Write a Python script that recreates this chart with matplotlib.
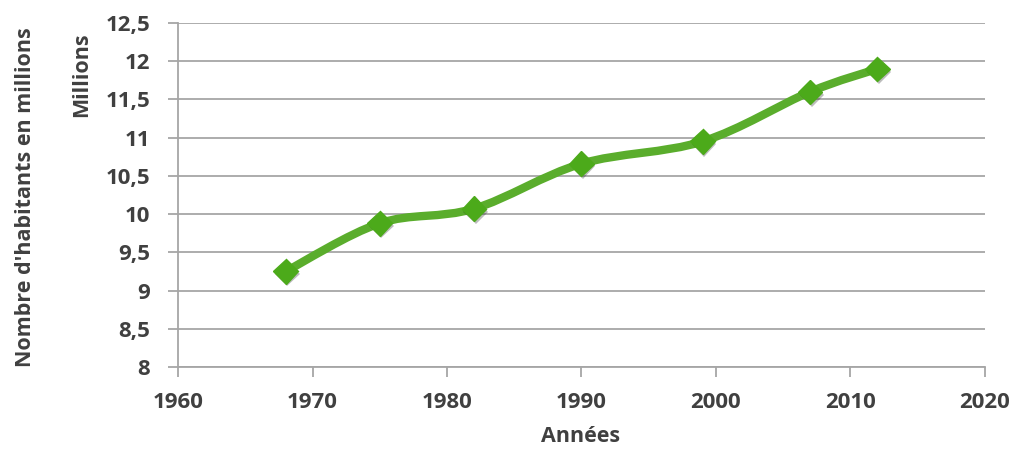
import numpy as np
import matplotlib
matplotlib.use('Agg')
import matplotlib.pyplot as plt
from matplotlib.path import Path
from matplotlib.patches import PathPatch
import matplotlib.patheffects as pe
from matplotlib.ticker import FuncFormatter

years = [1968, 1975, 1982, 1990, 1999, 2007, 2012]
population = [9.25, 9.88, 10.07, 10.66, 10.95, 11.60, 11.90]

x_ticks = [1960, 1970, 1980, 1990, 2000, 2010, 2020]
y_ticks = [8, 8.5, 9, 9.5, 10, 10.5, 11, 11.5, 12, 12.5]

TEXT = '#404040'
GRID = '#a6a6a6'
LINE = '#5aad2c'
MARK = '#4caa1a'

plt.rcParams['font.family'] = ['Open Sans', 'DejaVu Sans']
plt.rcParams['font.weight'] = 'bold'


def smooth_path(xs, ys):
    # excel-like smoothed line: bezier segments with catmull-rom control points
    pts = np.column_stack([xs, ys]).astype(float)
    n = len(pts)
    verts = [pts[0]]
    codes = [Path.MOVETO]
    for i in range(n - 1):
        p0 = pts[i - 1] if i > 0 else pts[i]
        p1 = pts[i]
        p2 = pts[i + 1]
        p3 = pts[i + 2] if i + 2 < n else pts[i + 1]
        c1 = p1 + (p2 - p0) / 6
        c2 = p2 - (p3 - p1) / 6
        verts += [c1, c2, p2]
        codes += [Path.CURVE4] * 3
    return Path(verts, codes)


fig = plt.figure(figsize=(10.19, 4.55), dpi=100)
ax = fig.add_axes([0.1747, 0.1934, 0.7919, 0.7561])

ax.set_xlim(1960, 2020)
ax.set_ylim(8, 12.5)
ax.set_xticks(x_ticks)
ax.set_yticks(y_ticks)
ax.yaxis.set_major_formatter(FuncFormatter(lambda v, p: f"{v:g}".replace('.', ',')))

ax.grid(axis='y', color=GRID, linewidth=1.3)
ax.set_axisbelow(True)
for s in ['top', 'right']:
    ax.spines[s].set_visible(False)
for s in ['left', 'bottom']:
    ax.spines[s].set_color(GRID)
    ax.spines[s].set_linewidth(1.3)

ax.tick_params(axis='both', colors=GRID, length=7, width=1.3,
               labelcolor=TEXT, labelsize=16)
for lbl in ax.get_xticklabels() + ax.get_yticklabels():
    lbl.set_fontweight('bold')
ax.tick_params(axis='x', pad=11)
ax.tick_params(axis='y', pad=13)

patch = PathPatch(smooth_path(years, population), facecolor='none',
                  edgecolor=LINE, linewidth=6, capstyle='round', joinstyle='round',
                  zorder=3)
ax.add_patch(patch)

ax.plot(years, population, linestyle='none', marker='D', markersize=12.5,
        markerfacecolor=MARK, markeredgecolor=MARK, zorder=4,
        path_effects=[pe.SimplePatchShadow(offset=(1.2, -2), alpha=0.3,
                                           shadow_rgbFace='#222222'),
                      pe.Normal()])

fig.text(581 / 1019, 1 - 437 / 455, 'Années', ha='center', va='center',
         color=TEXT, fontsize=15.5, fontweight='bold')
fig.text(82 / 1019, 1 - 75 / 455, 'Millions', ha='center', va='center',
         rotation=90, color=TEXT, fontsize=15.5, fontweight='bold')
fig.text(26 / 1019, 1 - 197 / 455, "Nombre d'habitants en millions", ha='center',
         va='center', rotation=90, color=TEXT, fontsize=15.5, fontweight='bold')

fig.savefig('out.png', dpi=100)
